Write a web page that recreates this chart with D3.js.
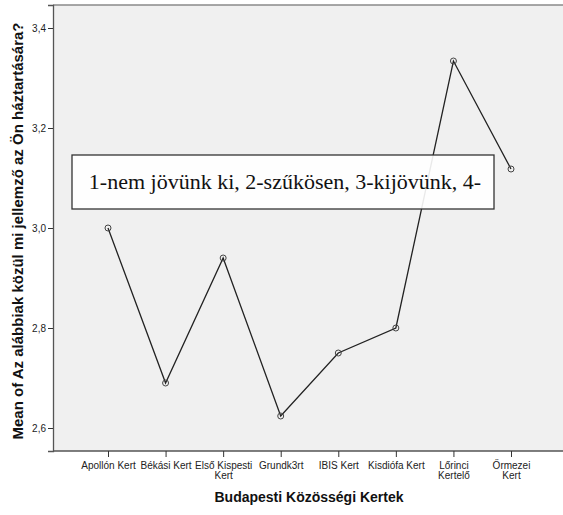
<!DOCTYPE html>
<html lang="hu">
<head>
<meta charset="UTF-8">
<title>Mean plot</title>
<style>
  body { margin: 0; background: #fff; }
  .tick text { font-family: Arial, "Liberation Sans", sans-serif; font-size: 10px; fill: #222; }
  .title { font-family: Arial, "Liberation Sans", sans-serif; font-weight: bold; fill: #111; }
</style>
</head>
<body>
<div id="chart"></div>
<script src="https://cdn.jsdelivr.net/npm/d3@7"></script>
<script>
// kertek és átlagok
let categories = ['Apollón Kert', 'Békási Kert', 'Első Kispesti Kert', 'Grundk3rt', 'IBIS Kert', 'Kisdiófa Kert', 'Lőrinci Kertelő', 'Őrmezei Kert']
let tickLines = [['Apollón Kert'], ['Békási Kert'], ['Első Kispesti', 'Kert'], ['Grundk3rt'], ['IBIS Kert'], ['Kisdiófa Kert'], ['Lőrinci', 'Kertelő'], ['Őrmezei', 'Kert']]
let means = [3.0, 2.69, 2.94, 2.624, 2.75, 2.80, 3.334, 3.118]
let yTicks = [2.6, 2.8, 3.0, 3.2, 3.4]
let xtitle = 'Budapesti Közösségi Kertek'
let ytitle = 'Mean of Az alábbiak közül mi jellemző az Ön háztartására?'
let note = '1-nem jövünk ki, 2-szűkösen, 3-kijövünk, 4-'

let width = 563
let height = 515
let padLeft = 53, padTop = 5, padRight = 563, padBottom = 451

let svg = d3.select('#chart').append('svg').attr('width', width).attr('height', height)

// háttér
svg.append('rect').attr('x', padLeft).attr('y', padTop).attr('width', padRight - padLeft).attr('height', padBottom - padTop)
  .attr('fill', '#f0f0f0')
svg.append('line').attr('x1', padLeft).attr('x2', padRight).attr('y1', padTop).attr('y2', padTop).attr('stroke', '#8a8a8a').attr('stroke-width', 1.5)

let x = d3.scalePoint().domain(categories).range([108, 511])
let y = d3.scaleLinear().domain([2.554, 3.446]).range([padBottom, padTop])

let fmt = d => d.toFixed(1).replace('.', ',')

let yAxis = svg.append('g').attr('transform', 'translate(' + padLeft + ',0)')
  .call(d3.axisLeft(y).tickValues(yTicks).tickFormat(fmt).tickSize(5).tickPadding(2))
yAxis.select('.domain').attr('stroke', '#555').attr('stroke-width', 1.3)
yAxis.selectAll('.tick line').attr('stroke', '#333')

let xAxis = svg.append('g').attr('transform', 'translate(0,' + padBottom + ')')
  .call(d3.axisBottom(x).tickSize(6).tickFormat(''))
xAxis.select('.domain').attr('d', 'M' + padLeft + ',0H' + padRight).attr('stroke', '#555').attr('stroke-width', 1.3)
xAxis.selectAll('.tick line').attr('stroke', '#333')
xAxis.selectAll('.tick').each(function (d, i) {
  let t = d3.select(this).append('text').attr('text-anchor', 'middle').attr('y', 18)
  tickLines[i].forEach((s, j) => {
    t.append('tspan').attr('x', 0).attr('dy', j === 0 ? 0 : 10).text(s)
  })
})

// vonal és pontok
let line = d3.line().x((d, i) => x(categories[i])).y(d => y(d))
svg.append('path').datum(means).attr('d', line).attr('fill', 'none').attr('stroke', '#222').attr('stroke-width', 1.3)
svg.selectAll('circle.pt').data(means).enter().append('circle').attr('class', 'pt')
  .attr('cx', (d, i) => x(categories[i])).attr('cy', d => y(d)).attr('r', 3)
  .attr('fill', 'none').attr('stroke', '#444').attr('stroke-width', 1)

// szövegdoboz
svg.append('rect').attr('x', 72).attr('y', 155).attr('width', 422).attr('height', 54)
  .attr('fill', '#fff').attr('fill-opacity', 0.9).attr('stroke', '#333').attr('stroke-width', 1.3)
svg.append('text').attr('x', 285).attr('y', 189).attr('text-anchor', 'middle')
  .style('font-family', '"Liberation Serif", "Times New Roman", serif').style('font-size', '22px').style('fill', '#111')
  .text(note)

// tengelycímek
svg.append('text').attr('class', 'title').style('font-size', '14px')
  .attr('x', 309).attr('y', 502).attr('text-anchor', 'middle').text(xtitle)
svg.append('text').attr('class', 'title').style('font-size', '15px').attr('text-anchor', 'middle')
  .attr('transform', 'translate(23,231) rotate(-90)').text(ytitle)
</script>
</body>
</html>
